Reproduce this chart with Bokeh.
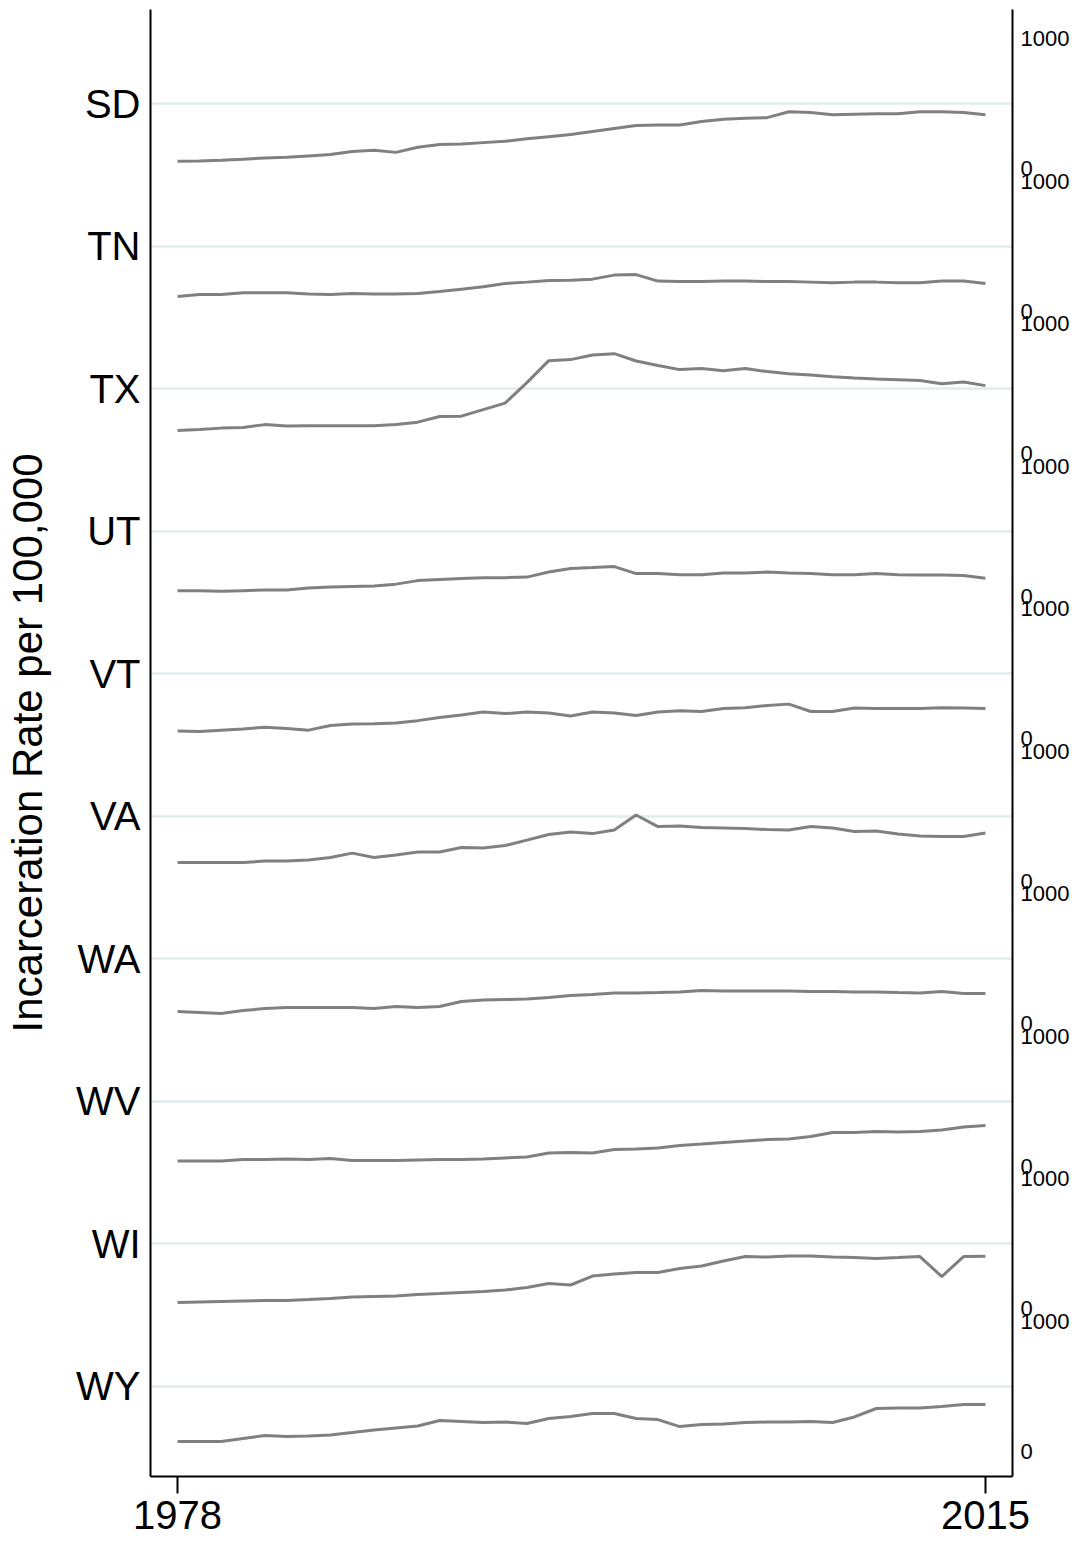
from bokeh.plotting import figure
from bokeh.models import Range1d, LinearAxis, FixedTicker, Grid
from bokeh.embed import file_html
from bokeh.resources import INLINE

years = list(range(1978, 2016))
states = ["SD", "TN", "TX", "UT", "VT", "VA", "WA", "WV", "WI", "WY"]

SD = [56, 58, 65, 73, 82, 88, 98, 108, 131, 142, 125, 164, 185, 190, 200, 210, 230, 246, 262, 285,
      308, 331, 335, 335, 362, 380, 388, 392, 438, 431, 415, 419, 423, 423, 438, 438, 431, 415]
TN = [112, 127, 127, 142, 142, 142, 131, 127, 135, 131, 131, 135, 150, 169, 188, 212, 223, 235, 238, 246,
      277, 281, 231, 227, 227, 231, 231, 227, 227, 223, 219, 223, 223, 219, 219, 231, 231, 212]
TX = [177, 185, 196, 200, 223, 212, 215, 215, 215, 215, 223, 242, 285, 288, 338, 388, 546, 715, 723, 758,
      769, 712, 677, 646, 654, 638, 654, 631, 615, 604, 592, 581, 573, 569, 562, 538, 550, 523]
UT = [42, 42, 38, 42, 46, 46, 62, 69, 73, 77, 92, 119, 127, 135, 142, 142, 146, 185, 212, 219,
      227, 173, 173, 165, 165, 177, 177, 185, 177, 173, 165, 165, 173, 165, 162, 162, 158, 138]
VT = [58, 54, 65, 73, 88, 77, 65, 100, 112, 115, 119, 138, 162, 181, 204, 192, 204, 196, 173, 204,
      196, 177, 204, 215, 208, 231, 238, 254, 265, 208, 208, 235, 231, 231, 231, 238, 235, 231]
VA = [142, 142, 142, 142, 154, 154, 162, 181, 215, 181, 200, 223, 223, 258, 254, 273, 315, 358, 377, 365,
      392, 508, 419, 423, 412, 408, 404, 396, 392, 419, 408, 381, 385, 362, 346, 342, 342, 369]
WA = [92, 85, 77, 100, 115, 123, 123, 123, 123, 115, 131, 123, 131, 169, 181, 185, 188, 200, 215, 223,
      235, 235, 238, 242, 254, 250, 250, 250, 250, 246, 246, 242, 242, 238, 235, 246, 231, 231]
WV = [38, 38, 38, 50, 50, 54, 50, 58, 42, 42, 42, 46, 50, 50, 54, 62, 69, 100, 104, 100,
      127, 131, 138, 158, 169, 181, 192, 204, 208, 227, 258, 258, 265, 262, 265, 277, 300, 312]
WI = [46, 50, 54, 58, 62, 62, 69, 77, 88, 92, 96, 108, 115, 123, 131, 142, 162, 192, 181, 250,
      265, 277, 277, 308, 327, 365, 400, 396, 404, 404, 396, 392, 385, 392, 400, 246, 400, 402]
WY = [73, 73, 73, 96, 119, 112, 115, 123, 142, 162, 177, 192, 235, 227, 219, 223, 212, 250, 265, 288,
      288, 250, 242, 188, 204, 208, 219, 223, 223, 227, 219, 262, 327, 331, 331, 342, 358, 358]
series = [SD, TN, TX, UT, VT, VA, WA, WV, WI, WY]

x_ticks = [1978, 2015]
band_labels = ["0", "1000"]
y_title = "Incarceration Rate per 100,000"

FONT = "Liberation Sans"
SPACING = 1096
n = len(states)
offsets = [(n - 1 - i) * SPACING for i in range(n)]

p = figure(width=1081, height=1541, output_backend="svg", toolbar_location=None,
           x_range=Range1d(1976.76, 2016.24),
           y_range=Range1d(-196, 11088),
           min_border_left=150, min_border_right=69, min_border_top=9, min_border_bottom=65,
           y_axis_location=None, x_axis_location=None)
p.outline_line_color = None
p.background_fill_color = "white"
p.border_fill_color = "white"

for vals, off in zip(series, offsets):
    p.line(years, [v + off for v in vals], line_color="#808080", line_width=3)

# left axis with state names
mid_ticks = [off + 500 for off in offsets]
left = LinearAxis(ticker=FixedTicker(ticks=mid_ticks),
                  major_label_overrides={t: s for t, s in zip(mid_ticks, states)})
left.axis_label = y_title
left.axis_label_text_font = FONT
left.axis_label_text_font_size = "42px"
left.axis_label_text_font_style = "normal"
left.axis_label_text_color = "black"
left.axis_label_standoff = 22
left.major_label_text_font = FONT
left.major_label_text_font_size = "40px"
left.major_label_text_color = "black"
left.major_label_standoff = 10
left.major_tick_in = 0
left.major_tick_out = 0
left.minor_tick_in = 0
left.minor_tick_out = 0
left.axis_line_width = 2
left.axis_line_color = "black"
p.add_layout(left, "left")

# right axis with 0 / 1000 per band
r_ticks = []
r_over = {}
for off in offsets:
    r_ticks += [off, off + 1000]
    r_over[off] = band_labels[0]
    r_over[off + 1000] = band_labels[1]
right = LinearAxis(ticker=FixedTicker(ticks=r_ticks), major_label_overrides=r_over)
right.major_label_text_font = FONT
right.major_label_text_font_size = "22px"
right.major_label_text_color = "black"
right.major_label_standoff = 8
right.major_tick_in = 0
right.major_tick_out = 0
right.minor_tick_in = 0
right.minor_tick_out = 0
right.axis_line_width = 2
right.axis_line_color = "black"
p.add_layout(right, "right")

bottom = LinearAxis(ticker=FixedTicker(ticks=x_ticks))
bottom.major_label_text_font = FONT
bottom.major_label_text_font_size = "40px"
bottom.major_label_text_color = "black"
bottom.major_label_standoff = 7
bottom.major_tick_in = 0
bottom.major_tick_out = 17
bottom.major_tick_line_width = 2
bottom.minor_tick_in = 0
bottom.minor_tick_out = 0
bottom.axis_line_width = 2
bottom.axis_line_color = "black"
p.add_layout(bottom, "below")

p.xgrid.visible = False
p.ygrid.visible = False
g = Grid(dimension=1, ticker=FixedTicker(ticks=mid_ticks), grid_line_color="#e2ebee", grid_line_width=2.5)
p.add_layout(g)

open("out.html", "w").write(file_html(p, INLINE))
